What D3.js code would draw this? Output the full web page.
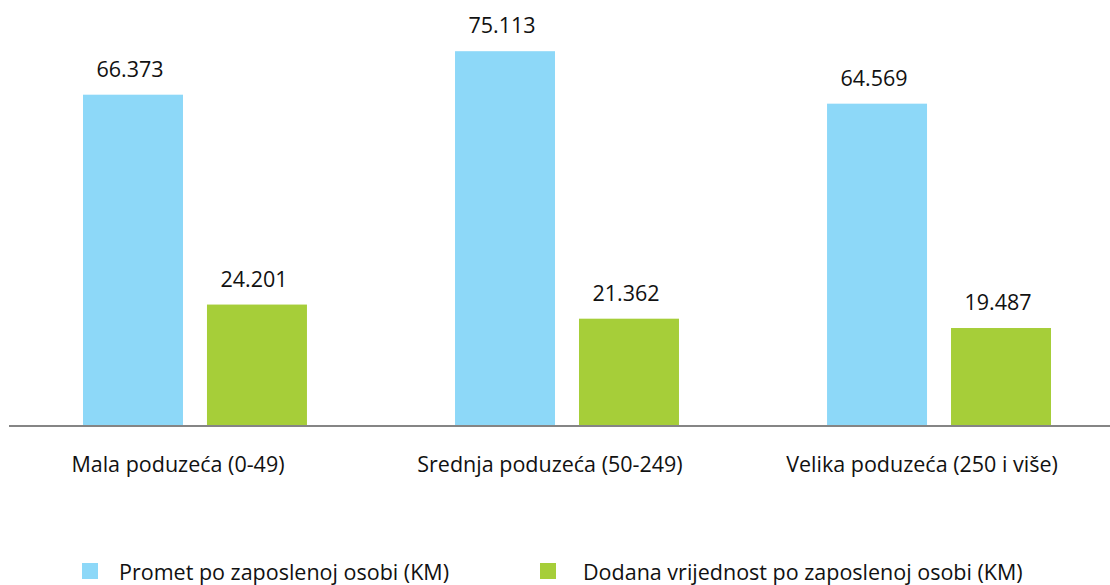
<!DOCTYPE html>
<html>
<head>
<meta charset="utf-8">
<script src="https://cdn.jsdelivr.net/npm/d3@7"></script>
<style>
	body { margin: 0; background: #fff; }
	text { font-family: "Open Sans", sans-serif; fill: #111; }
</style>
</head>
<body>
<div id="chart"></div>
<script>
// data
const categories = ["Mala poduzeća (0-49)", "Srednja poduzeća (50-249)", "Velika poduzeća (250 i više)"];
const series = ["Promet po zaposlenoj osobi (KM)", "Dodana vrijednost po zaposlenoj osobi (KM)"];
const promet = [66.373, 75.113, 64.569];
const dodana = [24.201, 21.362, 19.487];
const valueLabels = [["66.373", "24.201"], ["75.113", "21.362"], ["64.569", "19.487"]];
const colors = ["#8dd8f8", "#a6ce39"];

const W = 1110, H = 585;
const baseY = 425;

const svg = d3.select("#chart").append("svg")
	.attr("width", W)
	.attr("height", H);

const x0 = d3.scaleBand()
	.domain(categories)
	.range([83, 1051])
	.paddingInner(0.398);

const x1 = d3.scaleBand()
	.domain(series)
	.range([0, x0.bandwidth()])
	.paddingInner(0.1935);

const y = d3.scaleLinear()
	.domain([0, 85])
	.range([baseY, 2]);

const color = d3.scaleOrdinal().domain(series).range(colors);

const rows = categories.map((c, i) => ({
	cat: c,
	vals: [
		{ s: series[0], v: promet[i], lab: valueLabels[i][0] },
		{ s: series[1], v: dodana[i], lab: valueLabels[i][1] }
	]
}));

const groups = svg.selectAll("g.grp")
	.data(rows)
	.enter()
	.append("g")
	.attr("class", "grp")
	.attr("transform", d => `translate(${x0(d.cat)},0)`);

groups.selectAll("rect")
	.data(d => d.vals)
	.enter()
	.append("rect")
	.attr("x", d => x1(d.s))
	.attr("y", d => y(d.v))
	.attr("width", x1.bandwidth())
	.attr("height", d => baseY - y(d.v))
	.attr("fill", d => color(d.s));

groups.selectAll("text.val")
	.data(d => d.vals)
	.enter()
	.append("text")
	.attr("class", "val")
	.attr("x", d => x1(d.s) + x1.bandwidth() / 2 - 3)
	.attr("y", d => y(d.v) - 18)
	.attr("text-anchor", "middle")
	.style("font-size", "21.5px")
	.text(d => d.lab);

// baseline
svg.append("line")
	.attr("x1", 9)
	.attr("x2", W)
	.attr("y1", baseY + 1)
	.attr("y2", baseY + 1)
	.attr("stroke", "#858585")
	.attr("stroke-width", 2.2);

// category labels (sit a bit left of the group centre in the original)
svg.selectAll("text.cat")
	.data(categories)
	.enter()
	.append("text")
	.attr("class", "cat")
	.attr("x", d => x0(d) + x0.bandwidth() / 2 - 17)
	.attr("y", 472)
	.attr("text-anchor", "middle")
	.style("font-size", "21.5px")
	.text(d => d);

// legend
const legendX = [82, 540];
const legendTextDx = [37, 43];
const leg = svg.selectAll("g.leg")
	.data(series)
	.enter()
	.append("g")
	.attr("class", "leg")
	.attr("transform", (d, i) => `translate(${legendX[i]},563)`);

leg.append("rect")
	.attr("width", 16)
	.attr("height", 16)
	.attr("fill", d => color(d));

leg.append("text")
	.attr("x", (d, i) => legendTextDx[i])
	.attr("y", 17)
	.style("font-size", "21.5px")
	.text(d => d);
</script>
</body>
</html>
